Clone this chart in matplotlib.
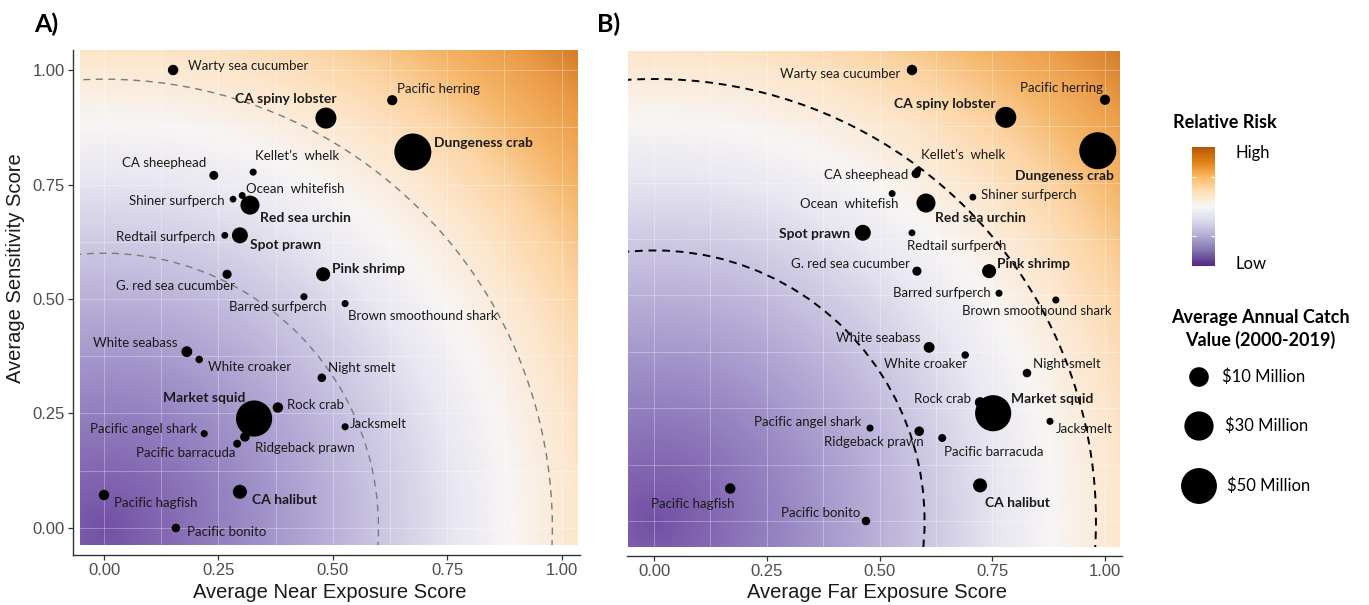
import numpy as np
import matplotlib.pyplot as plt
from matplotlib.colors import LinearSegmentedColormap, ListedColormap, Normalize
from matplotlib.cm import ScalarMappable
from matplotlib.patches import Arc, Rectangle
from matplotlib.ticker import MultipleLocator, FixedLocator

# species scores and catch value ($ million, 2000-2019 average)
species = ["Warty sea cucumber", "Pacific herring", "CA spiny lobster", "Dungeness crab",
           "CA sheephead", "Kellet’s  whelk", "Ocean  whitefish", "Shiner surfperch",
           "Red sea urchin", "Redtail surfperch", "Spot prawn", "G. red sea cucumber",
           "Pink shrimp", "Barred surfperch", "Brown smoothound shark", "White seabass",
           "White croaker", "Night smelt", "Market squid", "Rock crab", "Jacksmelt",
           "Pacific angel shark", "Ridgeback prawn", "Pacific barracuda", "Pacific hagfish",
           "CA halibut", "Pacific bonito"]
near_exposure = [0.151, 0.630, 0.485, 0.675, 0.240, 0.326, 0.302, 0.282, 0.319, 0.264,
                 0.297, 0.269, 0.479, 0.437, 0.527, 0.181, 0.208, 0.476, 0.328, 0.380,
                 0.527, 0.219, 0.308, 0.291, 0.000, 0.297, 0.157]
far_exposure = [0.572, 1.000, 0.780, 0.984, 0.581, 0.585, 0.528, 0.707, 0.603, 0.572,
                0.463, 0.583, 0.743, 0.765, 0.891, 0.610, 0.690, 0.827, 0.752, 0.723,
                0.878, 0.479, 0.588, 0.639, 0.169, 0.723, 0.470]
sensitivity = [1.000, 0.934, 0.895, 0.821, 0.770, 0.777, 0.726, 0.718, 0.705, 0.639,
               0.639, 0.554, 0.554, 0.505, 0.490, 0.385, 0.368, 0.328, 0.239, 0.263,
               0.221, 0.206, 0.199, 0.184, 0.072, 0.079, 0.000]
catch_value = [0.9, 0.8, 12.2, 54.0, 0.35, 0.02, 0.01, 0.005, 9.1, 0.005,
               5.2, 0.4, 3.3, 0.02, 0.02, 1.1, 0.06, 0.25, 51.0, 0.9,
               0.02, 0.02, 0.55, 0.13, 0.9, 3.3, 0.25]
top_fisheries = {"CA spiny lobster", "Dungeness crab", "Red sea urchin", "Spot prawn",
                 "Pink shrimp", "Market squid", "CA halibut"}

size_breaks = [10, 30, 50]
size_labels = ["$10 Million", "$30 Million", "$50 Million"]
risk_rings = [0.6, 0.98]
ticks = [0, 0.25, 0.5, 0.75, 1.0]
tick_labels = ["0.00", "0.25", "0.50", "0.75", "1.00"]

# label placement: (dx px, dy px downwards, alignment)
offsets_near = {
    "Warty sea cucumber": (15, -4, "left"), "Pacific herring": (5, -11, "left"),
    "CA spiny lobster": (11, -19, "right"), "Dungeness crab": (21, -9, "left"),
    "CA sheephead": (-8, -12, "right"), "Kellet’s  whelk": (2, -16, "left"),
    "Ocean  whitefish": (4, -6, "left"), "Shiner surfperch": (-8, 2, "right"),
    "Red sea urchin": (10, 13, "left"), "Redtail surfperch": (-9, 2, "right"),
    "Spot prawn": (10, 10, "left"), "G. red sea cucumber": (8, 12, "right"),
    "Pink shrimp": (9, -5, "left"), "Barred surfperch": (-26, 10, "center"),
    "Brown smoothound shark": (3, 12, "left"), "White seabass": (-9, -9, "right"),
    "White croaker": (9, 8, "left"), "Night smelt": (6, -10, "left"),
    "Market squid": (-9, -21, "right"), "Rock crab": (9, -3, "left"),
    "Jacksmelt": (5, -3, "left"), "Pacific angel shark": (-7, -5, "right"),
    "Ridgeback prawn": (10, 11, "left"), "Pacific barracuda": (-2, 9, "right"),
    "Pacific hagfish": (10, 8, "left"), "CA halibut": (12, 8, "left"),
    "Pacific bonito": (11, 4, "left"),
}
offsets_far = {
    "Warty sea cucumber": (-12, 4, "right"), "Pacific herring": (-2, -12, "right"),
    "CA spiny lobster": (-10, -13, "right"), "Dungeness crab": (16, 25, "right"),
    "CA sheephead": (-8, 1, "right"), "Kellet’s  whelk": (3, -16, "left"),
    "Ocean  whitefish": (6, 10, "right"), "Shiner surfperch": (8, -2, "left"),
    "Red sea urchin": (9, 15, "left"), "Redtail surfperch": (-5, 13, "left"),
    "Spot prawn": (-13, 1, "right"), "G. red sea cucumber": (-7, -7, "right"),
    "Pink shrimp": (8, -7, "left"), "Barred surfperch": (-8, 0, "right"),
    "Brown smoothound shark": (-19, 11, "center"), "White seabass": (-9, -9, "right"),
    "White croaker": (2, 9, "right"), "Night smelt": (6, -9, "left"),
    "Market squid": (18, -14, "left"), "Rock crab": (-9, -3, "right"),
    "Jacksmelt": (6, 8, "left"), "Pacific angel shark": (-9, -6, "right"),
    "Ridgeback prawn": (5, 11, "right"), "Pacific barracuda": (2, 14, "left"),
    "Pacific hagfish": (4, 15, "right"), "CA halibut": (5, 18, "left"),
    "Pacific bonito": (-6, -8, "right"),
}

LABEL_FONT = "Lato"
AXIS_FONT = "Liberation Sans"
W, H = 1369, 605
fig = plt.figure(figsize=(W / 100, H / 100), dpi=100)

# radial risk shading, purple near the origin through white to orange
risk_cmap = LinearSegmentedColormap.from_list("risk", [
    (0.00, "#7450a4"), (0.20, "#9888c4"), (0.40, "#c9c3e1"), (0.52, "#e9e7f1"),
    (0.60, "#f7f5f4"), (0.70, "#fde6cc"), (0.78, "#fcd4a3"), (0.86, "#f5b467"),
    (0.93, "#eb9c48"), (1.00, "#d27a26")])


def px_axes(x0, y0, x1, y1):
    return fig.add_axes([x0 / W, 1 - y1 / H, (x1 - x0) / W, (y1 - y0) / H])


def dot_size(v):
    d = 6.5 + 30.5 * np.sqrt(np.asarray(v, dtype=float) / max(catch_value))
    return (d * 0.72) ** 2


def draw_panel(ax, xvals, xlim, ylim, extent, ring_style, offsets, show_y):
    x0, x1, y0, y1 = extent
    gx, gy = np.meshgrid(np.linspace(x0, x1, 400), np.linspace(y0, y1, 400))
    ax.imshow(np.hypot(gx, gy), extent=extent, origin="lower", cmap=risk_cmap,
              vmin=0, vmax=1.48, aspect="auto", interpolation="bilinear", zorder=0)
    ax.set_xlim(*xlim)
    ax.set_ylim(*ylim)

    clip = Rectangle((x0, y0), x1 - x0, y1 - y0, transform=ax.transData)
    for r in risk_rings:
        arc = Arc((0, 0), 2 * r, 2 * r, theta1=-20, theta2=110, zorder=2, **ring_style)
        ax.add_patch(arc)
        arc.set_clip_path(clip)

    ax.scatter(xvals, sensitivity, s=dot_size(catch_value), c="black",
               linewidths=0, zorder=3)
    for name, x, y in zip(species, xvals, sensitivity):
        dx, dy, ha = offsets[name]
        bold = name in top_fisheries
        ax.annotate(name, (x, y), xytext=(dx * 0.72, -dy * 0.72),
                    textcoords="offset points", ha=ha, va="center",
                    fontsize=10 if bold else 9.5, family=LABEL_FONT,
                    color="#1a1a1a", fontweight="bold" if bold else "normal",
                    zorder=4)

    ax.set_xticks(ticks)
    ax.set_xticklabels(tick_labels)
    ax.xaxis.set_minor_locator(MultipleLocator(0.125))
    ax.yaxis.set_minor_locator(MultipleLocator(0.125))
    ax.grid(which="both", color="white", alpha=0.3, linewidth=0.7)
    ax.tick_params(which="minor", length=0)
    ax.tick_params(which="major", length=3.6, width=0.9, color="#333333",
                   labelsize=12, labelcolor="#4d4d4d", pad=2.5)
    for lab in ax.get_xticklabels() + ax.get_yticklabels():
        lab.set_family(AXIS_FONT)
    for side in ["top", "right"]:
        ax.spines[side].set_visible(False)
    ax.spines["bottom"].set_color("#333333")
    ax.spines["bottom"].set_linewidth(1.0)
    ax.set_yticks(ticks)
    if show_y:
        ax.set_yticklabels(tick_labels)
        ax.spines["left"].set_color("#333333")
        ax.spines["left"].set_linewidth(1.0)
    else:
        ax.tick_params(axis="y", which="both", length=0, labelleft=False)
        ax.spines["left"].set_visible(False)


ax_a = px_axes(73, 50, 580, 555)
draw_panel(ax_a, near_exposure, (-0.0678, 1.0404), (-0.059, 1.0437),
           (-0.0525, 1.034, -0.037, 1.0437),
           dict(color="#7a7a7a", linewidth=1.0, linestyle=(0, (5, 4))),
           offsets_near, True)

ax_b = px_axes(627, 50, 1122, 556)
draw_panel(ax_b, far_exposure, (-0.0599, 1.0377), (-0.0776, 1.0443),
           (-0.0576, 1.0333, -0.0576, 1.042),
           dict(color="black", linewidth=1.4, linestyle=(0, (4, 3))),
           offsets_far, False)

# overlay in pixel coordinates for titles and the legends
ov = fig.add_axes([0, 0, 1, 1], zorder=5)
ov.set_xlim(0, W)
ov.set_ylim(H, 0)
ov.axis("off")

ov.text(34, 24, "A)", fontsize=18, fontweight="bold", family=LABEL_FONT,
        ha="left", va="center")
ov.text(597, 24, "B)", fontsize=18, fontweight="bold", family=LABEL_FONT,
        ha="left", va="center")
ov.text(330, 592, "Average Near Exposure Score", fontsize=14.5, family=AXIS_FONT,
        color="#1a1a1a", ha="center", va="center")
ov.text(877, 592, "Average Far Exposure Score", fontsize=14.5, family=AXIS_FONT,
        color="#1a1a1a", ha="center", va="center")
ov.text(16, 268, "Average Sensitivity Score", fontsize=14.5, family=AXIS_FONT,
        color="#1a1a1a", ha="center", va="center", rotation=90)

# relative risk colour bar
ov.text(1173, 123, "Relative Risk", fontsize=13, fontweight="bold",
        family=LABEL_FONT, ha="left", va="center")
bar_cmap = ListedColormap(plt.get_cmap("PuOr_r")(np.linspace(0.1, 0.9, 256)))
cax = px_axes(1192, 147, 1215, 266)
cb = fig.colorbar(ScalarMappable(norm=Normalize(0, 1), cmap=bar_cmap), cax=cax)
cb.outline.set_visible(False)
cb.set_ticks([0.03, 0.96])
cb.set_ticklabels(["Low", "High"])
cax.tick_params(length=0, pad=15, labelsize=12)
for lab in cax.get_yticklabels():
    lab.set_family(LABEL_FONT)
cax.yaxis.set_minor_locator(FixedLocator([0.25, 0.75]))
cax.tick_params(which="minor", length=3, width=0.8, color="white",
                direction="in", left=True, right=True)

# catch value size legend
ov.text(1260, 318, "Average Annual Catch", fontsize=13, fontweight="bold",
        family=LABEL_FONT, ha="center", va="center")
ov.text(1260, 340, "Value (2000-2019)", fontsize=13, fontweight="bold",
        family=LABEL_FONT, ha="center", va="center")
legend_y = [377, 426, 486]
ov.scatter([1199] * 3, legend_y, s=dot_size(size_breaks), c="black", linewidths=0)
for y, lab, lx in zip(legend_y, size_labels, [1222, 1225, 1227]):
    ov.text(lx, y, lab, fontsize=12, family=LABEL_FONT, ha="left", va="center")

fig.savefig("out.png", dpi=100)
